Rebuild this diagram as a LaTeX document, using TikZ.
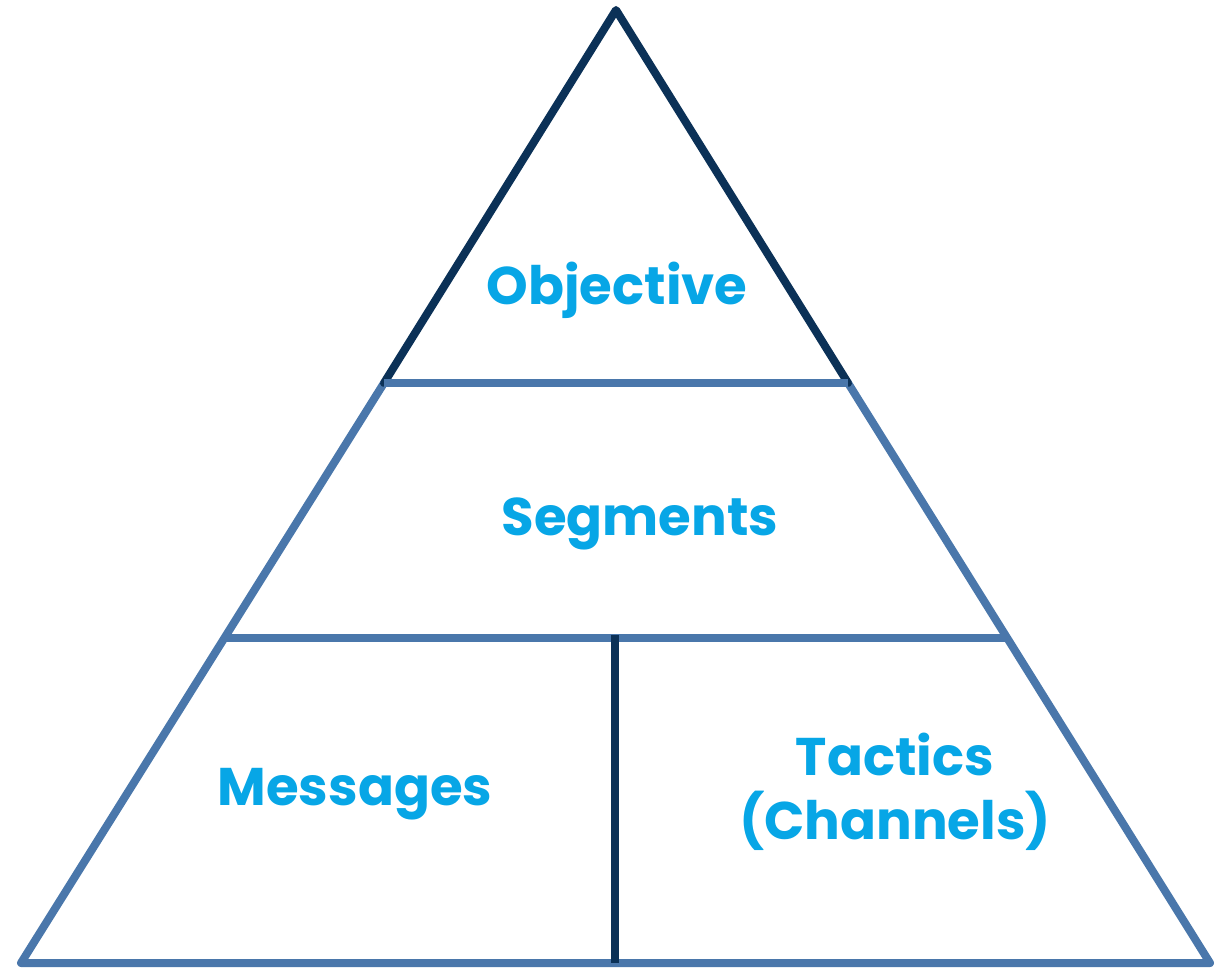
\documentclass[tikz,border=0pt]{standalone}
\usepackage{fontspec}
\setmainfont{Poppins}[BoldFont={* Bold}]
\definecolor{navy}{HTML}{0B3157}
\definecolor{steel}{HTML}{4A77AB}
\definecolor{cyanlabel}{HTML}{07A6E6}
\begin{document}
\begin{tikzpicture}[x=1pt,y=-1pt,
  edge/.style={line width=8pt,line join=round,line cap=round},
  divider/.style={line width=8pt},
  label/.style={text=cyanlabel,font=\fontsize{53}{64}\selectfont\bfseries,align=center,inner sep=0pt}]
  \useasboundingbox (0,0) rectangle (1217,968);
  % corners of the pyramid and its tier breaks
  \coordinate (apex) at (616,10);
  \coordinate (l1) at (384,383);
  \coordinate (r1) at (848,383);
  \coordinate (l2) at (225,638);
  \coordinate (r2) at (1006,638);
  \coordinate (bl) at (21,963);
  \coordinate (br) at (1210,963);
  \coordinate (vtop) at (615,635);
  \coordinate (vbot) at (615,963);
  % outline
  \draw[edge,steel] (l1) -- (bl) -- (br) -- (r1);
  \draw[edge,navy] (l1) -- (apex) -- (r1);
  % tier separators
  \draw[divider,steel] (l1) -- (r1);
  \draw[divider,steel] (l2) -- (r2);
  \draw[divider,navy] (vtop) -- (vbot);
  % labels
  \node[label] (obj) at (617,290) {Objective};
  \node[label] (seg) at (640,524) {Segments};
  \node[label] (msg) at (355,794) {Messages};
  \node[label] (tac) at (895,792) {Tactics\\(Channels)};
\end{tikzpicture}
\end{document}
